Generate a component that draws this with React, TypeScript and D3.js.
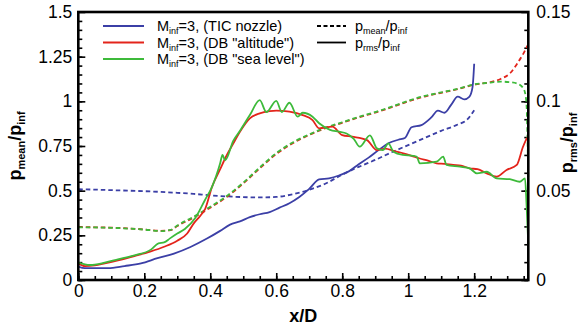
import React, { useRef, useEffect } from 'react';
import * as d3 from 'd3';

// mean pressure (left axis), dashed
const ticMeanX = [0, 0.05, 0.1, 0.15, 0.2, 0.25, 0.3, 0.35, 0.4, 0.45, 0.5, 0.55, 0.6, 0.65, 0.7, 0.75, 0.8, 0.85, 0.9, 0.95, 1.0, 1.05, 1.1, 1.15, 1.18, 1.2];
const ticMeanY = [0.508, 0.506, 0.503, 0.5, 0.497, 0.493, 0.488, 0.482, 0.474, 0.468, 0.464, 0.462, 0.465, 0.48, 0.505, 0.54, 0.59, 0.633, 0.672, 0.715, 0.755, 0.795, 0.835, 0.87, 0.9, 0.95];

const seaMeanX = [0, 0.05, 0.1, 0.15, 0.2, 0.25, 0.28, 0.3, 0.35, 0.4, 0.45, 0.5, 0.55, 0.6, 0.65, 0.7, 0.75, 0.8, 0.85, 0.9, 0.95, 1.0, 1.05, 1.1, 1.15, 1.2, 1.25, 1.28, 1.31, 1.33, 1.35, 1.358, 1.364];
const seaMeanY = [0.295, 0.294, 0.292, 0.288, 0.282, 0.274, 0.28, 0.305, 0.355, 0.41, 0.47, 0.545, 0.63, 0.71, 0.77, 0.815, 0.853, 0.883, 0.913, 0.94, 0.97, 1.003, 1.03, 1.05, 1.07, 1.095, 1.105, 1.11, 1.107, 1.1, 1.07, 1.0, 0.56];

const altMeanX = [0, 0.05, 0.1, 0.15, 0.2, 0.25, 0.28, 0.3, 0.35, 0.4, 0.45, 0.5, 0.55, 0.6, 0.65, 0.7, 0.75, 0.8, 0.85, 0.9, 0.95, 1.0, 1.05, 1.1, 1.15, 1.2, 1.25, 1.28, 1.31, 1.33, 1.35, 1.364];
const altMeanY = [0.296, 0.295, 0.293, 0.289, 0.283, 0.275, 0.279, 0.302, 0.35, 0.405, 0.465, 0.54, 0.625, 0.705, 0.765, 0.812, 0.85, 0.88, 0.91, 0.937, 0.967, 1.0, 1.027, 1.048, 1.068, 1.093, 1.108, 1.125, 1.16, 1.21, 1.27, 1.32];

// rms pressure (right axis), solid
const ticRmsX = [0, 0.02, 0.04, 0.09, 0.14, 0.19, 0.24, 0.29, 0.34, 0.39, 0.43, 0.46, 0.49, 0.52, 0.55, 0.58, 0.61, 0.64, 0.67, 0.7, 0.73, 0.76, 0.79, 0.82, 0.85, 0.88, 0.91, 0.94, 0.97, 0.99, 1.01, 1.04, 1.07, 1.09, 1.11, 1.13, 1.15, 1.17, 1.185, 1.195, 1.2];
const ticRmsY = [0.0075, 0.0066, 0.0066, 0.0066, 0.0078, 0.0093, 0.0122, 0.0148, 0.0185, 0.0232, 0.0275, 0.031, 0.0328, 0.0352, 0.0368, 0.038, 0.0405, 0.043, 0.0465, 0.051, 0.0563, 0.0569, 0.0585, 0.0608, 0.0648, 0.0685, 0.0727, 0.0765, 0.0785, 0.0795, 0.0855, 0.0867, 0.091, 0.0948, 0.0936, 0.098, 0.1026, 0.1011, 0.1025, 0.108, 0.121];

const altRmsX = [0, 0.02, 0.05, 0.08, 0.12, 0.17, 0.22, 0.26, 0.3, 0.33, 0.35, 0.37, 0.385, 0.405, 0.43, 0.445, 0.47, 0.49, 0.52, 0.55, 0.58, 0.6, 0.64, 0.68, 0.71, 0.73, 0.77, 0.8, 0.83, 0.875, 0.905, 0.93, 0.96, 0.985, 1.01, 1.035, 1.06, 1.086, 1.11, 1.136, 1.16, 1.186, 1.21, 1.238, 1.268, 1.298, 1.329, 1.348, 1.36];
const altRmsY = [0.0093, 0.0078, 0.0082, 0.0093, 0.011, 0.0134, 0.016, 0.0186, 0.022, 0.026, 0.0317, 0.036, 0.04, 0.052, 0.062, 0.068, 0.0765, 0.083, 0.0905, 0.0933, 0.0945, 0.0948, 0.0942, 0.0923, 0.0895, 0.0849, 0.0858, 0.0811, 0.0802, 0.0783, 0.0727, 0.0735, 0.072, 0.0709, 0.0695, 0.068, 0.0668, 0.0653, 0.065, 0.0644, 0.064, 0.0625, 0.062, 0.0597, 0.0578, 0.0616, 0.0644, 0.0746, 0.0795];

const seaRmsX = [0, 0.035, 0.08, 0.12, 0.17, 0.22, 0.243, 0.26, 0.278, 0.3, 0.323, 0.354, 0.384, 0.405, 0.43, 0.437, 0.445, 0.47, 0.49, 0.52, 0.55, 0.57, 0.6, 0.617, 0.64, 0.665, 0.68, 0.71, 0.73, 0.763, 0.79, 0.813, 0.835, 0.853, 0.884, 0.905, 0.923, 0.94, 0.955, 0.984, 1.015, 1.026, 1.035, 1.086, 1.106, 1.116, 1.157, 1.186, 1.208, 1.238, 1.268, 1.308, 1.338, 1.354, 1.359, 1.364];
const seaRmsY = [0.0097, 0.0084, 0.0097, 0.0115, 0.0138, 0.017, 0.0205, 0.021, 0.0233, 0.026, 0.0285, 0.0345, 0.0448, 0.052, 0.0653, 0.07, 0.067, 0.078, 0.0835, 0.0923, 0.1007, 0.094, 0.1003, 0.094, 0.0992, 0.0914, 0.0936, 0.0914, 0.0877, 0.084, 0.083, 0.082, 0.079, 0.0746, 0.081, 0.0737, 0.0727, 0.0765, 0.0718, 0.07, 0.0695, 0.069, 0.0653, 0.0662, 0.069, 0.0644, 0.0634, 0.0625, 0.0597, 0.0606, 0.0569, 0.0564, 0.055, 0.0569, 0.041, 0.02];

const xTicks = [0, 0.2, 0.4, 0.6, 0.8, 1, 1.2];
const yLeftTicks = [0, 0.25, 0.5, 0.75, 1, 1.25, 1.5];
const yRightTicks = [0, 0.05, 0.1, 0.15];

const BLUE = '#3b3fa6';
const RED = '#e3241b';
const GREEN = '#3dba3a';
const FONT = '"Liberation Sans", Arial, sans-serif';

const zip = (xs: number[], ys: number[]) => xs.map((x, i) => [x, ys[i]] as [number, number]);

const App = () => {
  const svgRef = useRef<SVGSVGElement>(null);

  useEffect(() => {
    document.body.style.margin = '0';
    const width = 583;
    const height = 327;
    const left = 78.3, right = 528.3, top = 12, bottom = 280;

    const x = d3.scaleLinear().domain([0, 1.364]).range([left, right]);
    const yL = d3.scaleLinear().domain([0, 1.5]).range([bottom, top]);
    const yR = d3.scaleLinear().domain([0, 0.15]).range([bottom, top]);

    const svg = d3.select(svgRef.current);
    svg.selectAll('*').remove();
    svg.attr('width', width).attr('height', height).attr('viewBox', [0, 0, width, height])
      .style('font-family', FONT);

    const styleAxis = (g: any, size: number) => {
      g.select('.domain').remove();
      g.selectAll('line').attr('stroke', '#000').attr('stroke-width', 1.6);
      g.selectAll('text').attr('fill', '#000').style('font-size', `${size}px`).style('font-family', FONT);
    };

    // x axis, minor then major
    svg.append('g').attr('transform', `translate(0,${bottom})`)
      .call(d3.axisBottom(x).tickValues(d3.range(0, 1.36, 0.05)).tickSize(-4).tickFormat(() => ''))
      .call(g => styleAxis(g, 17.5));
    svg.append('g').attr('transform', `translate(0,${bottom})`)
      .call(d3.axisBottom(x).tickValues(xTicks).tickSize(-7).tickPadding(5).tickFormat(d => String(d)))
      .call(g => styleAxis(g, 17.5));

    // left axis
    svg.append('g').attr('transform', `translate(${left},0)`)
      .call(d3.axisLeft(yL).tickValues(d3.range(0, 1.5, 0.05)).tickSize(-4).tickFormat(() => ''))
      .call(g => styleAxis(g, 17.5));
    svg.append('g').attr('transform', `translate(${left},0)`)
      .call(d3.axisLeft(yL).tickValues(yLeftTicks).tickSize(-7).tickPadding(6).tickFormat(d => String(d)))
      .call(g => styleAxis(g, 17.5));

    // right axis
    svg.append('g').attr('transform', `translate(${right},0)`)
      .call(d3.axisRight(yR).tickValues(d3.range(0, 0.15, 0.01)).tickSize(-4).tickFormat(() => ''))
      .call(g => styleAxis(g, 17.5));
    svg.append('g').attr('transform', `translate(${right},0)`)
      .call(d3.axisRight(yR).tickValues(yRightTicks).tickSize(-7).tickPadding(8).tickFormat(d => String(d)))
      .call(g => styleAxis(g, 17.5));

    const plot = svg.append('g');
    const lineL = d3.line<[number, number]>().x(d => x(d[0])).y(d => yL(d[1])).curve(d3.curveMonotoneX);
    const lineR = d3.line<[number, number]>().x(d => x(d[0])).y(d => yR(d[1])).curve(d3.curveMonotoneX);

    const series = [
      { data: zip(ticMeanX, ticMeanY), line: lineL, color: BLUE, dash: '4.5,3' },
      { data: zip(altMeanX, altMeanY), line: lineL, color: RED, dash: '4.5,3' },
      { data: zip(seaMeanX, seaMeanY), line: lineL, color: GREEN, dash: '4.5,3' },
      { data: zip(ticRmsX, ticRmsY), line: lineR, color: BLUE, dash: null },
      { data: zip(altRmsX, altRmsY), line: lineR, color: RED, dash: null },
      { data: zip(seaRmsX, seaRmsY), line: lineR, color: GREEN, dash: null },
    ];

    plot.selectAll('path')
      .data(series)
      .join('path')
      .attr('fill', 'none')
      .attr('stroke', d => d.color)
      .attr('stroke-width', 1.8)
      .attr('stroke-dasharray', d => d.dash)
      .attr('d', d => d.line(d.data));

    // frame
    svg.append('rect')
      .attr('x', left).attr('y', top)
      .attr('width', right - left).attr('height', bottom - top)
      .attr('fill', 'none').attr('stroke', '#000').attr('stroke-width', 2.6);

    // axis titles
    svg.append('text')
      .attr('x', (left + right) / 2).attr('y', 322)
      .attr('text-anchor', 'middle')
      .style('font-size', '18px').style('font-weight', 'bold')
      .text('x/D');

    const subTitle = (tx: number, ty: number, a: string, b: string) => {
      const t = svg.append('text')
        .attr('transform', `translate(${tx},${ty}) rotate(-90)`)
        .attr('text-anchor', 'middle')
        .style('font-size', '18px').style('font-weight', 'bold');
      t.append('tspan').text('p');
      t.append('tspan').attr('dy', 4).style('font-size', '11px').text(a);
      t.append('tspan').attr('dy', -4).text('/p');
      t.append('tspan').attr('dy', 4).style('font-size', '11px').text(b);
    };
    subTitle(21, 146, 'mean', 'inf');
    subTitle(573, 143, 'rms', 'inf');

    // legend
    const legend = svg.append('g').style('font-size', '14.5px');
    const entries = [
      { color: BLUE, label: '(TIC nozzle)' },
      { color: RED, label: '(DB "altitude")' },
      { color: GREEN, label: '(DB "sea level")' },
    ];
    entries.forEach((e, i) => {
      const yy = 26 + i * 16.5;
      legend.append('line').attr('x1', 103).attr('x2', 144).attr('y1', yy).attr('y2', yy)
        .attr('stroke', e.color).attr('stroke-width', 2.2);
      const t = legend.append('text').attr('x', 157).attr('y', yy + 5);
      t.append('tspan').text('M');
      t.append('tspan').attr('dy', 3).style('font-size', '9px').text('inf');
      t.append('tspan').attr('dy', -3).text(`=3, ${e.label}`);
    });
    const styles = [
      { dash: '4,2.5', a: 'mean' },
      { dash: null, a: 'rms' },
    ];
    styles.forEach((s, i) => {
      const yy = 26 + i * 16.5;
      legend.append('line').attr('x1', 317).attr('x2', 346).attr('y1', yy).attr('y2', yy)
        .attr('stroke', '#000').attr('stroke-width', 1.8).attr('stroke-dasharray', s.dash);
      const t = legend.append('text').attr('x', 355).attr('y', yy + 5);
      t.append('tspan').text('p');
      t.append('tspan').attr('dy', 3).style('font-size', '9px').text(s.a);
      t.append('tspan').attr('dy', -3).text('/p');
      t.append('tspan').attr('dy', 3).style('font-size', '9px').text('inf');
    });
  }, []);

  return (
    <div style={{ width: 583, height: 327 }}>
      <svg ref={svgRef}></svg>
    </div>
  );
};

export default App;
